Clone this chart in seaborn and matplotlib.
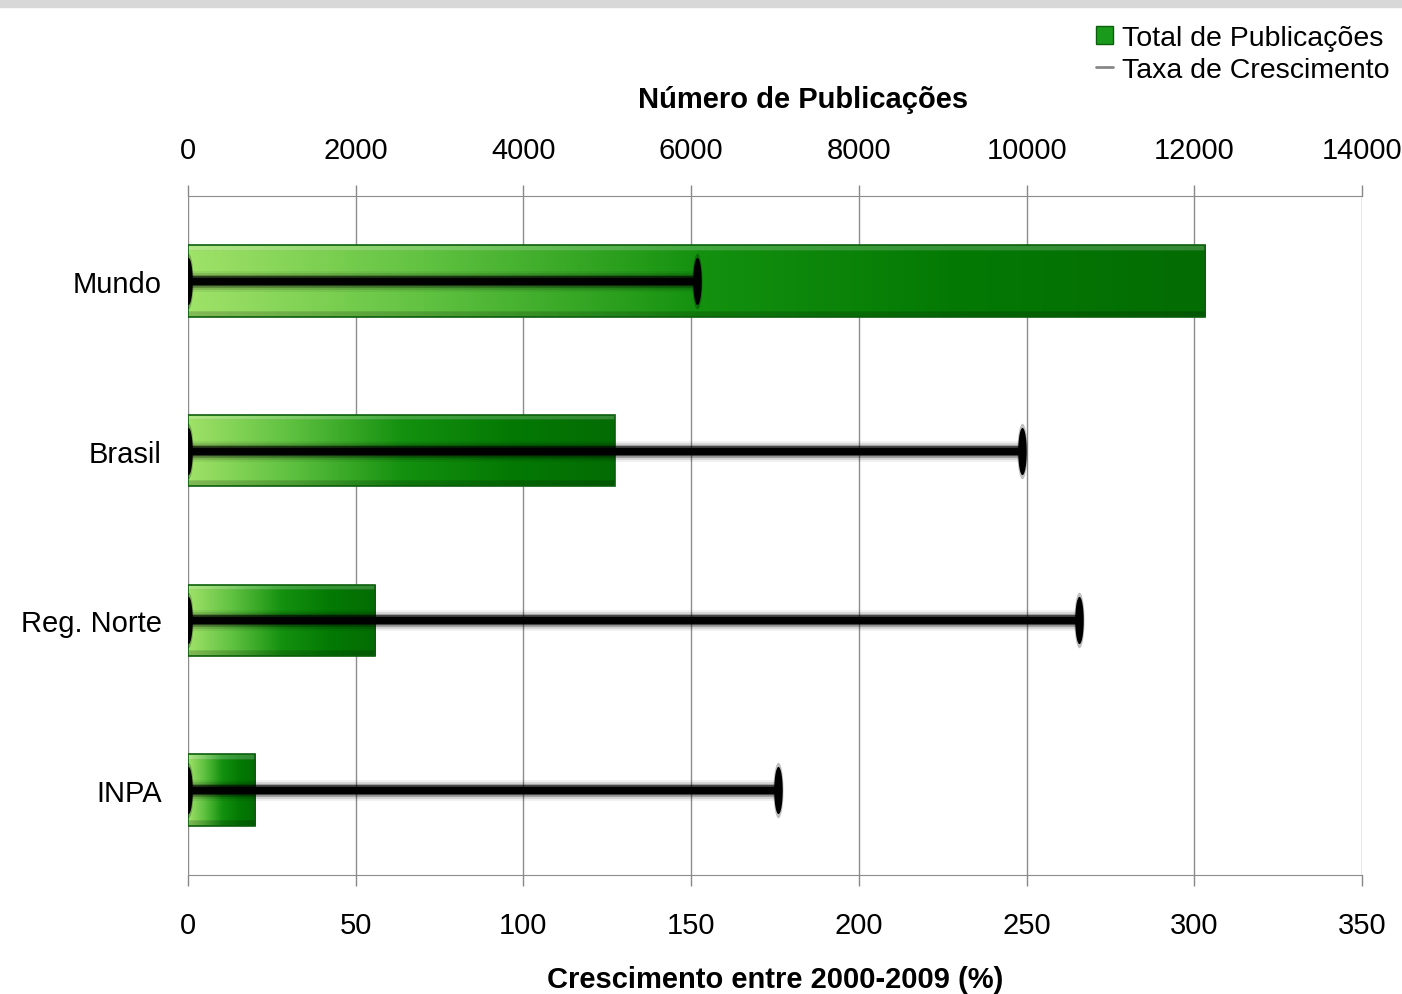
import numpy as np
import pandas as pd
import seaborn as sns
import matplotlib.pyplot as plt
from matplotlib.colors import LinearSegmentedColormap
from matplotlib.lines import Line2D
from matplotlib.patches import Patch

# dados
categorias = ["Mundo", "Brasil", "Reg. Norte", "INPA"]
total_publicacoes = [12130, 5090, 2230, 800]
taxa_crescimento = [151.7, 248.6, 265.6, 175.9]

top_ticks = [0, 2000, 4000, 6000, 8000, 10000, 12000, 14000]
bottom_ticks = [0, 50, 100, 150, 200, 250, 300, 350]

df = pd.DataFrame({"categoria": categorias,
                   "total": total_publicacoes,
                   "taxa": taxa_crescimento})

sns.set_style("white")
plt.rcParams["font.family"] = ["Liberation Sans Narrow", "Liberation Sans", "DejaVu Sans"]
plt.rcParams["text.color"] = "black"
plt.rcParams["axes.labelcolor"] = "black"
plt.rcParams["xtick.labelcolor"] = "black"
plt.rcParams["ytick.labelcolor"] = "black"

fig = plt.figure(figsize=(14.02, 9.95), dpi=100)
ax = fig.add_axes([188 / 1402, 1 - 876 / 995, 1174 / 1402, 679 / 995])

# barras (eixo de cima)
sns.barplot(data=df, x="total", y="categoria", orient="h", ax=ax,
            width=0.42, color="#0a8a0a", edgecolor="#0b5e0b", linewidth=1.2,
            zorder=2)

cmap = LinearSegmentedColormap.from_list(
    "verde", ["#9fe268", "#5cbf3e", "#14910f", "#047a04", "#036c03"])
grad = np.linspace(0, 1, 256).reshape(1, -1)
t = np.linspace(0, 1, 64)
for p in ax.patches:
    x0, y0 = p.get_x(), p.get_y()
    w, h = p.get_width(), p.get_height()
    im = ax.imshow(grad, cmap=cmap, aspect="auto",
                   extent=[x0, x0 + w, y0 + h, y0], zorder=2.1,
                   interpolation="bicubic")
    im.set_clip_path(p)
    # relevo: claro em cima, escuro em baixo
    hl = np.zeros((64, 1, 4))
    top = t < 0.07
    bot = t > 0.93
    hl[top, 0, :3] = 1.0
    hl[top, 0, 3] = 0.2
    hl[bot, 0, 3] = 0.18
    im2 = ax.imshow(hl, aspect="auto", extent=[x0, x0 + w, y0 + h, y0],
                    zorder=2.2)
    im2.set_clip_path(p)
    p.set_facecolor("none")
    p.set_zorder(2.3)
ax.set_xlim(0, 14000)
ax.set_ylim(3.5, -0.5)

ax.set_ylabel("")
ax.set_yticks([-0.5, 0.5, 1.5, 2.5, 3.5], minor=False)
ax.set_yticklabels([])
ax.set_yticks(range(4), minor=True)
ax.set_yticklabels(categorias, minor=True)
ax.tick_params(axis="y", which="major", length=8, color="#888888", width=1)
ax.tick_params(axis="y", which="minor", length=0, labelsize=21, pad=19)
ax.grid(axis="x", color="#8c8c8c", linewidth=1, zorder=0)
ax.set_axisbelow(True)
for s in ["left", "right"]:
    ax.spines[s].set_visible(False)
ax.spines["top"].set_color("#8c8c8c")
ax.spines["bottom"].set_color("#8c8c8c")

# linhas de crescimento (eixo de baixo)
ax2 = ax.twiny()
ax2.set_xlim(0, 350)
ys = np.arange(len(categorias))
for lw, a in [(15, 0.06), (12, 0.12), (9, 0.3), (7, 0.6), (5, 1.0)]:
    ax2.hlines(ys, 0, df["taxa"], color="black", linewidth=lw, alpha=a,
               zorder=3)
ang = np.linspace(0, 2 * np.pi, 40)
lente = np.column_stack([0.18 * np.cos(ang), np.sin(ang)])
for ms, a in [(40, 0.25), (34, 1.0)]:
    ax2.plot(df["taxa"], ys, linestyle="none", marker=lente, color="black",
             markersize=ms, markeredgewidth=0, alpha=a, zorder=4)
    ax2.plot(np.zeros(len(ys)), ys, linestyle="none", marker=lente,
             color="black", markersize=ms, markeredgewidth=0, alpha=a,
             zorder=4)
ax2.set_ylim(3.5, -0.5)
for s in ax2.spines.values():
    s.set_visible(False)

# eixo de baixo: crescimento; eixo de cima: publicacoes
ax2.xaxis.tick_bottom()
ax2.xaxis.set_label_position("bottom")
ax2.set_xticks(bottom_ticks)
ax2.set_xticklabels([str(v) for v in bottom_ticks])
ax2.set_xlabel("Crescimento entre 2000-2009 (%)", fontsize=21,
               fontweight="bold", labelpad=19)
ax2.tick_params(axis="x", length=8, color="#888888", width=1, labelsize=21,
                pad=18)

ax.xaxis.tick_top()
ax.xaxis.set_label_position("top")
ax.set_xticks(top_ticks)
ax.set_xticklabels([str(v) for v in top_ticks])
ax.set_xlabel("Número de Publicações", fontsize=21, fontweight="bold",
              labelpad=21)
ax.xaxis.label.set_x(0.524)
ax.tick_params(axis="x", length=8, color="#888888", width=1, labelsize=21,
               pad=15)

# faixa cinza no topo
fig.patches.append(plt.Rectangle((0, 1 - 8 / 995), 1, 8 / 995,
                                 transform=fig.transFigure,
                                 color="#d8d8d8", zorder=0))

handles = [Patch(facecolor="#1a9a1a", edgecolor="#0b5e0b"),
           Line2D([0], [0], color="#888888", linewidth=2)]
fig.legend(handles, ["Total de Publicações", "Taxa de Crescimento"],
           loc="upper right", bbox_to_anchor=(0.999, 0.985), frameon=False,
           fontsize=20.5, handlelength=0.6, handleheight=0.6,
           handletextpad=0.3, labelspacing=0.2, borderaxespad=0)

fig.savefig("out.png", dpi=100)
